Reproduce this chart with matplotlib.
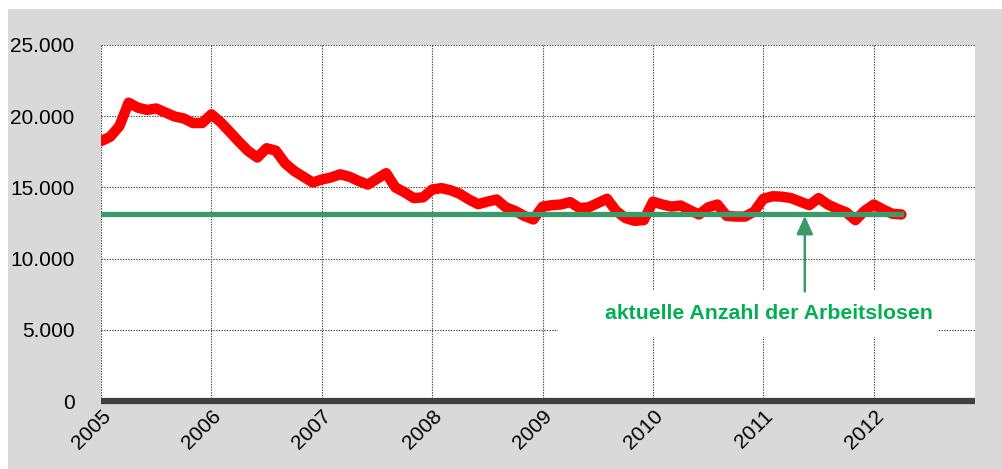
import numpy as np
import matplotlib.pyplot as plt
from matplotlib.patches import Rectangle

plt.rcParams['font.family'] = ['Liberation Sans', 'DejaVu Sans']

# Arbeitslose pro Monat, Jan 2005 bis Apr 2012
arbeitslose = [
    18250, 18550, 19300, 20950, 20600, 20440, 20540, 20260, 19980, 19840, 19520, 19520,
    20130, 19580, 18900, 18200, 17550, 17100, 17750, 17580, 16700, 16150, 15750, 15350,
    15550, 15700, 15920, 15750, 15450, 15200, 15600, 16000, 15000, 14650, 14250, 14300,
    14850, 14950, 14800, 14550, 14150, 13820, 14000, 14150, 13600, 13350, 13000, 12750,
    13650, 13750, 13800, 13970, 13550, 13600, 13900, 14200, 13350, 12850, 12650, 12700,
    14000, 13800, 13650, 13730, 13400, 13100, 13600, 13800, 13000, 12950, 12950, 13300,
    14200, 14380, 14350, 14250, 14000, 13750, 14250, 13800, 13500, 13250, 12700, 13350,
    13800, 13450, 13150, 13100,
]
aktuell = 13150
jahre = ['2005', '2006', '2007', '2008', '2009', '2010', '2011', '2012']
y_ticks = [0, 5000, 10000, 15000, 20000, 25000]
y_labels = ['0', '5.000', '10.000', '15.000', '20.000', '25.000']

monate = np.arange(len(arbeitslose))

fig = plt.figure(figsize=(10.03, 4.69), dpi=100)
fig.patches.append(Rectangle((8 / 1003, 0), 1, 1 - 9 / 469, transform=fig.transFigure,
                             facecolor='#d9d9d9', edgecolor='none', zorder=-10))
ax = fig.add_axes([101 / 1003, 68 / 469, 874 / 1003, 356 / 469])
ax.set_facecolor('white')

ax.plot(monate, arbeitslose, color='#ff0000', linewidth=7.5,
        solid_joinstyle='round', solid_capstyle='round', zorder=3)
ax.plot([monate[0], monate[-1]], [aktuell, aktuell], color='#3a9a6a', linewidth=3.8, zorder=4)

ax.set_xlim(0, 95)
ax.set_ylim(0, 25000)
ax.set_xticks(np.arange(len(jahre)) * 12)
ax.set_xticklabels(jahre, rotation=45, ha='right', va='top', rotation_mode='anchor', fontsize=15)
ax.set_yticks(y_ticks)
ax.set_yticklabels(y_labels, fontsize=15)
ax.tick_params(axis='both', length=0)
ax.tick_params(axis='y', pad=19)
ax.tick_params(axis='x', pad=4)
ax.grid(True, color='#444444', linestyle=(0, (1.2, 1.2)), linewidth=0.8, zorder=0)
ax.set_axisbelow(True)
for s in ['top', 'right', 'left']:
    ax.spines[s].set_visible(False)
ax.spines['bottom'].set_color('#404040')
ax.spines['bottom'].set_linewidth(4.5)
ax.spines['bottom'].set_capstyle('butt')

# Textfeld mit Pfeil
ax.add_patch(Rectangle((49.7, 4500), 41.4, 3200, facecolor='white', edgecolor='none', zorder=2))
ax.text(72.6, 6150, 'aktuelle Anzahl der Arbeitslosen', color='#00b050', fontsize=15.3,
        fontweight='bold', ha='center', va='center', zorder=5)
ax.annotate('', xy=(76.5, aktuell - 150), xytext=(76.5, 7700),
            arrowprops=dict(arrowstyle='-|>,head_width=0.5,head_length=1.1',
                            color='#3a9a6a', lw=1.8, shrinkA=0, shrinkB=0), zorder=5)

fig.savefig('out.png', dpi=100)
